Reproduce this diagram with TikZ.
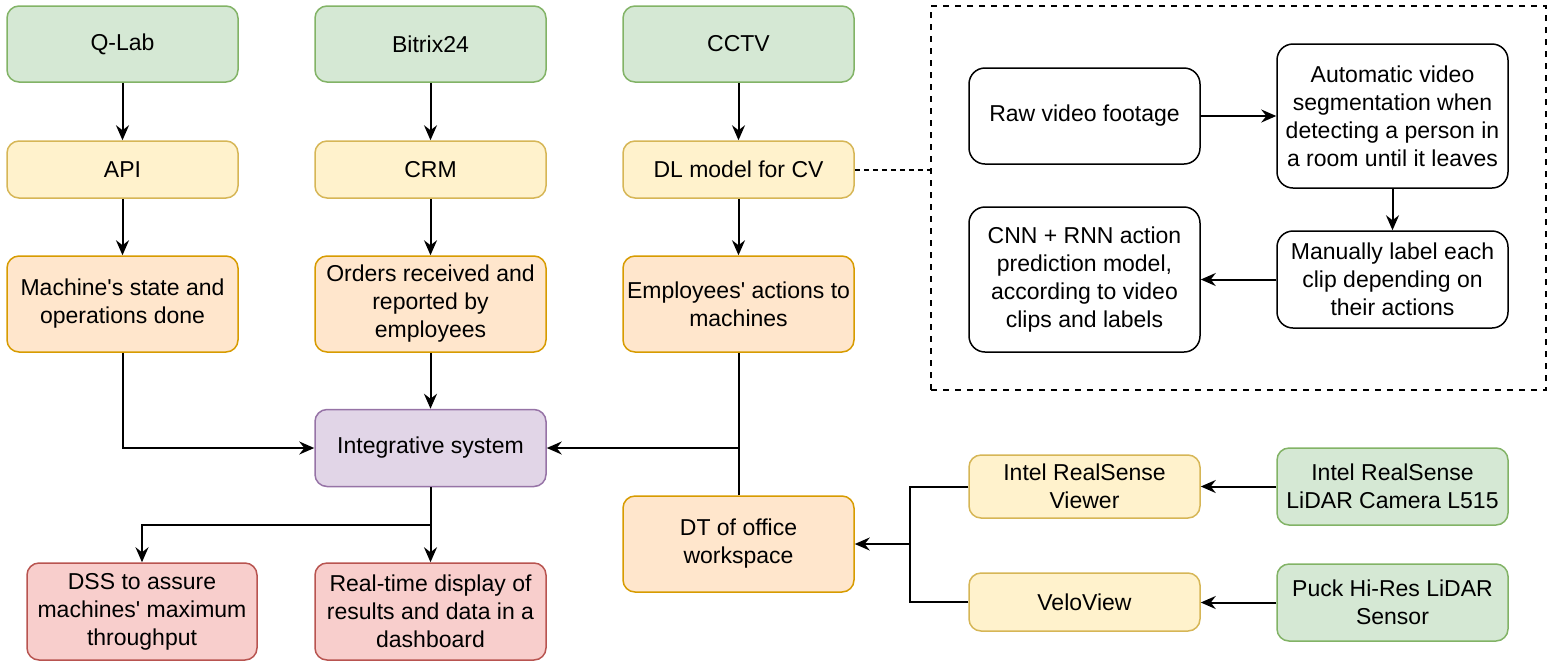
\documentclass[tikz,border=0pt]{standalone}
\usepackage{fontspec}
\setmainfont{Liberation Sans}
\usetikzlibrary{arrows.meta}
\definecolor{grnfill}{HTML}{D5E8D4}
\definecolor{grnline}{HTML}{82B366}
\definecolor{ylwfill}{HTML}{FFF2CC}
\definecolor{ylwline}{HTML}{D6B656}
\definecolor{orgfill}{HTML}{FFE6CC}
\definecolor{orgline}{HTML}{D79B00}
\definecolor{prpfill}{HTML}{E1D5E7}
\definecolor{prpline}{HTML}{9673A6}
\definecolor{redfill}{HTML}{F8CECC}
\definecolor{redline}{HTML}{B85450}

\begin{document}
\begin{tikzpicture}[x=0.5pt, y=-0.5pt,
  box/.style={draw, line width=0.75pt, rounded corners=6pt, align=center,
    minimum width=115.5pt, inner sep=2pt,
    font=\fontsize{11.5}{14}\selectfont},
  source/.style={box, fill=grnfill, draw=grnline},
  tool/.style={box, fill=ylwfill, draw=ylwline},
  datum/.style={box, fill=orgfill, draw=orgline},
  hub/.style={box, fill=prpfill, draw=prpline},
  result/.style={box, fill=redfill, draw=redline},
  cvstep/.style={box, fill=white, draw=black, rounded corners=8pt},
  link/.style={line width=1pt, -{Stealth[length=7.5pt, width=6.5pt, inset=2.5pt]}},
  plain/.style={line width=1pt},
  dashline/.style={line width=1pt, dash pattern=on 2.5pt off 2pt}]
\useasboundingbox (0,0) rectangle (1553,671);

% three data sources
\node[source, minimum height=38pt] (qlab) at (122.5,44) {Q-Lab};
\node[source, minimum height=38pt] (bitrix) at (430.5,44) {Bitrix24};
\node[source, minimum height=38pt] (cctv) at (738.5,44) {CCTV};

\node[tool, minimum height=28.5pt] (api) at (122.5,169.5) {API};
\node[tool, minimum height=28.5pt] (crm) at (430.5,169.5) {CRM};
\node[tool, minimum height=28.5pt] (dl) at (738.5,169.5) {DL model for CV};

\node[datum, minimum height=48pt] (mach) at (122.5,304)
  {Machine\textquotesingle s state and\\operations done};
\node[datum, minimum height=48pt] (orders) at (430.5,304)
  {Orders received and\\reported by\\employees};
\node[datum, minimum height=48pt] (emp) at (738.5,304)
  {Employees\textquotesingle\ actions to\\machines};

\node[hub, minimum height=38.5pt] (integ) at (430.5,448) {Integrative system};

\node[result, minimum width=115pt, minimum height=48.5pt] (dss) at (142,611.5)
  {DSS to assure\\machines\textquotesingle\ maximum\\throughput};
\node[result, minimum height=48.5pt] (rt) at (430.5,611.5)
  {Real-time display of\\results and data in a\\dashboard};

\node[datum, minimum height=48pt] (dt) at (738.5,544) {DT of office\\workspace};

% CV pipeline
\node[draw, dashed, line width=0.75pt, minimum width=307.5pt, minimum height=192pt,
  inner sep=0pt] (cvbox) at (1238.5,198) {};
\node[cvstep, minimum height=48pt] (raw) at (1084.5,116) {Raw video footage};
\node[cvstep, minimum height=72pt] (auto) at (1392.5,116)
  {Automatic video\\segmentation when\\detecting a person in\\a room until it leaves};
\node[cvstep, minimum height=48.5pt] (manual) at (1392.5,279.5)
  {Manually label each\\clip depending on\\their actions};
\node[cvstep, minimum height=72.5pt] (cnn) at (1084.5,279.5)
  {CNN + RNN action\\prediction model,\\according to video\\clips and labels};

% sensors
\node[tool, minimum height=31.5pt] (viewer) at (1084.5,486.5) {Intel RealSense\\Viewer};
\node[tool, minimum height=29pt] (velo) at (1084.5,602) {VeloView};
\node[source, minimum height=38.5pt] (cam) at (1392.5,486.5)
  {Intel RealSense\\LiDAR Camera L515};
\node[source, minimum height=38.5pt] (puck) at (1392.5,602.5)
  {Puck Hi-Res LiDAR\\Sensor};

\draw[link] (qlab) -- (api);
\draw[link] (api) -- (mach);
\draw[link] (bitrix) -- (crm);
\draw[link] (crm) -- (orders);
\draw[link] (cctv) -- (dl);
\draw[link] (dl) -- (emp);

\draw[link] (mach.south) |- (integ.west);
\draw[link] (orders) -- (integ);
\draw[link] (emp.south) |- (integ.east);
\draw[plain] (dt.north) -- (dt.north |- integ.east);

\coordinate (split) at (430.5,525);
\draw[link] (integ.south) -- (split) -| (dss.north);
\draw[link] (split) -- (rt.north);

\draw[dashline] (dl.east) -- (dl.east -| cvbox.west);
\draw[link] (raw) -- (auto);
\draw[link] (auto) -- (manual);
\draw[link] (manual) -- (cnn);

\coordinate (dtjoin) at (910,544);
\draw[link] (cam) -- (viewer);
\draw[link] (puck.west) -- (puck.west -| velo.east);
\draw[link] (viewer.west) -| (dtjoin) -- (dt.east);
\draw[plain] (velo.west) -| (dtjoin);
\end{tikzpicture}
\end{document}
